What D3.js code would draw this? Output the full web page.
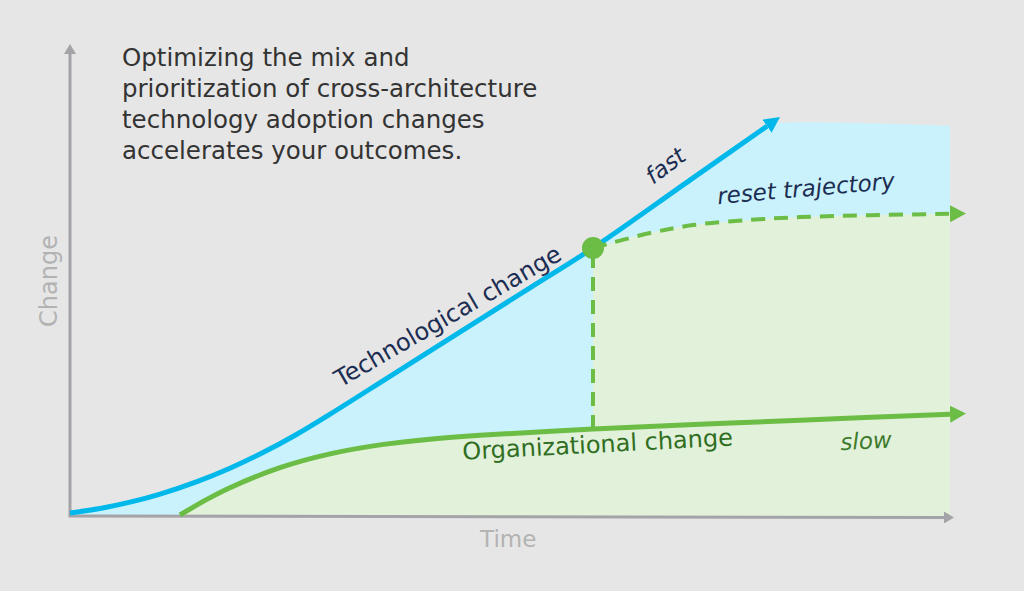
<!DOCTYPE html>
<html>
<head>
<meta charset="utf-8">
<script src="https://cdn.jsdelivr.net/npm/d3@7"></script>
<style>
  body { margin: 0; background: #e6e6e6; }
  svg { display: block; }
  text { font-family: "DejaVu Sans", sans-serif; }
</style>
</head>
<body>
<div class="chart"></div>
<script>
// conceptual units: time 0..100, change 0..100
var techTime   = [0, 3.41, 6.82, 10.23, 14.43, 18.18, 21.93, 25.68, 29.55, 36.36, 45.11, 52.27, 59.43, 70.45, 79.2];
var techChange = [0.64, 1.6, 2.94, 4.66, 7.32, 10.17, 13.49, 17.28, 21.66, 29.72, 40.09, 48.55, 57.02, 71.47, 82.94];

var orgTime   = [12.5, 15.34, 18.18, 23.86, 29.55, 35.23, 40.91, 46.59, 59.43, 71.59, 82.95, 100];
var orgChange = [0.21, 3.32, 6.02, 10.28, 13.21, 15.13, 16.34, 17.17, 18.49, 19.53, 20.38, 21.66];

var resetTime   = [59.43, 65.9, 70.8, 77.3, 83.0, 90.9, 100];
var resetChange = [57.02, 60.2, 61.9, 63.0, 63.6, 64.0, 64.3];

// top edge of the blue area after the arrow
var techCapTime   = [80.7, 100];
var techCapChange = [83.6, 83.0];

var titleLines = [
    "Optimizing the mix and",
    "prioritization of cross-architecture",
    "technology adoption changes",
    "accelerates your outcomes."
];

var width = 1024;
var height = 591;

var svg = d3.select("div.chart").append("svg")
    .attr("width", width)
    .attr("height", height);

svg.append("rect").attr("width", width).attr("height", height).attr("fill", "#e6e6e6");

var x = d3.scaleLinear().domain([0, 100]).range([70, 950]);
var y = d3.scaleLinear().domain([0, 100]).range([516, 46]);

function zip(xs, ys) {
    return xs.map(function(d, i) { return [d, ys[i]]; });
}
var tech = zip(techTime, techChange);
var org = zip(orgTime, orgChange);
var reset = zip(resetTime, resetChange);
var techTop = tech.concat(zip(techCapTime, techCapChange));
var pivot = reset[0];
var pivotOrg = org.filter(function(d) { return d[0] === pivot[0]; })[0];

var defs = svg.append("defs");
function arrow(id, color, len, wid) {
    defs.append("marker")
        .attr("id", id)
        .attr("markerUnits", "userSpaceOnUse")
        .attr("viewBox", "0 " + (-wid / 2) + " " + len + " " + wid)
        .attr("refX", 0).attr("refY", 0)
        .attr("markerWidth", len).attr("markerHeight", wid)
        .attr("orient", "auto")
        .append("path")
        .attr("d", "M0," + (-wid / 2) + "L" + len + ",0L0," + (wid / 2) + "Z")
        .attr("fill", color);
}
arrow("arrBlue", "#00b9ea", 16, 16);
arrow("arrGreen", "#6cbd45", 16, 17);
arrow("arrGray", "#a3a3a8", 10, 12);

var area = d3.area()
    .x(function(d) { return x(d[0]); })
    .y0(y(0))
    .y1(function(d) { return y(d[1]); })
    .curve(d3.curveCatmullRom);

var line = d3.line()
    .x(function(d) { return x(d[0]); })
    .y(function(d) { return y(d[1]); })
    .curve(d3.curveCatmullRom);

// fills
svg.append("path").datum(techTop).attr("d", area).attr("fill", "#c9f2fd");
svg.append("path").datum(org.filter(function(d) { return d[0] <= pivot[0]; }))
    .attr("d", area).attr("fill", "#e2f1da");
svg.append("path").datum(reset).attr("d", area).attr("fill", "#e2f1da");

// axes
svg.append("line")
    .attr("x1", x(0)).attr("y1", y(0)).attr("x2", x(0)).attr("y2", y(100) + 8)
    .attr("stroke", "#a3a3a8").attr("stroke-width", 3)
    .attr("marker-end", "url(#arrGray)");
svg.append("line")
    .attr("x1", x(0) - 1.5).attr("y1", y(0)).attr("x2", x(100) - 6).attr("y2", y(0) + 1.5)
    .attr("stroke", "#a3a3a8").attr("stroke-width", 3)
    .attr("marker-end", "url(#arrGray)");

// lines
svg.append("path").datum(tech).attr("d", line)
    .attr("fill", "none").attr("stroke", "#00b9ea").attr("stroke-width", 5)
    .attr("marker-end", "url(#arrBlue)");

svg.append("path").datum(org).attr("d", line)
    .attr("fill", "none").attr("stroke", "#6cbd45").attr("stroke-width", 5)
    .attr("marker-end", "url(#arrGreen)");

svg.append("path").datum(reset).attr("d", line)
    .attr("fill", "none").attr("stroke", "#6cbd45").attr("stroke-width", 4)
    .attr("stroke-dasharray", "14,9")
    .attr("marker-end", "url(#arrGreen)");

svg.append("line")
    .attr("x1", x(pivot[0])).attr("x2", x(pivot[0]))
    .attr("y1", y(pivot[1])).attr("y2", y(pivotOrg[1]))
    .attr("stroke", "#6cbd45").attr("stroke-width", 4)
    .attr("stroke-dasharray", "14,9").attr("stroke-dashoffset", -6);

svg.append("circle")
    .attr("cx", x(pivot[0])).attr("cy", y(pivot[1])).attr("r", 11)
    .attr("fill", "#6cbd45");

// title
svg.append("text")
    .attr("x", 122).attr("y", 66)
    .attr("font-size", 24.5).attr("fill", "#333333")
    .selectAll("tspan").data(titleLines).enter().append("tspan")
    .attr("x", 122)
    .attr("dy", function(d, i) { return i === 0 ? 0 : 31; })
    .text(function(d) { return d; });

// axis titles
svg.append("text")
    .attr("transform", "translate(57," + y(50) + ") rotate(-90)")
    .attr("text-anchor", "middle")
    .attr("font-size", 24).attr("fill", "#b3b3b3")
    .text("Change");

svg.append("text")
    .attr("x", x(49.8)).attr("y", 547)
    .attr("text-anchor", "middle")
    .attr("font-size", 23).attr("fill", "#b3b3b3")
    .text("Time");

// annotations [time, change, angle, text, size, italic, color]
var labels = [
    [43.4, 41.0, -30, "Technological change", 24, false, "#1c2d52"],
    [68.2, 73.2, -37, "fast", 23, true, "#1c2d52"],
    [83.7, 68.0, -5, "reset trajectory", 23, true, "#1c2d52"],
    [60.0, 13.5, -3, "Organizational change", 24, false, "#2f6e1f"],
    [90.5, 14.3, -3, "slow", 23, true, "#3d7a2c"]
];
svg.selectAll("text.lbl").data(labels).enter().append("text")
    .attr("class", "lbl")
    .attr("transform", function(d) { return "translate(" + x(d[0]) + "," + y(d[1]) + ") rotate(" + d[2] + ")"; })
    .attr("text-anchor", "middle")
    .attr("font-size", function(d) { return d[4]; })
    .attr("font-style", function(d) { return d[5] ? "italic" : "normal"; })
    .attr("fill", function(d) { return d[6]; })
    .text(function(d) { return d[3]; });
</script>
</body>
</html>
